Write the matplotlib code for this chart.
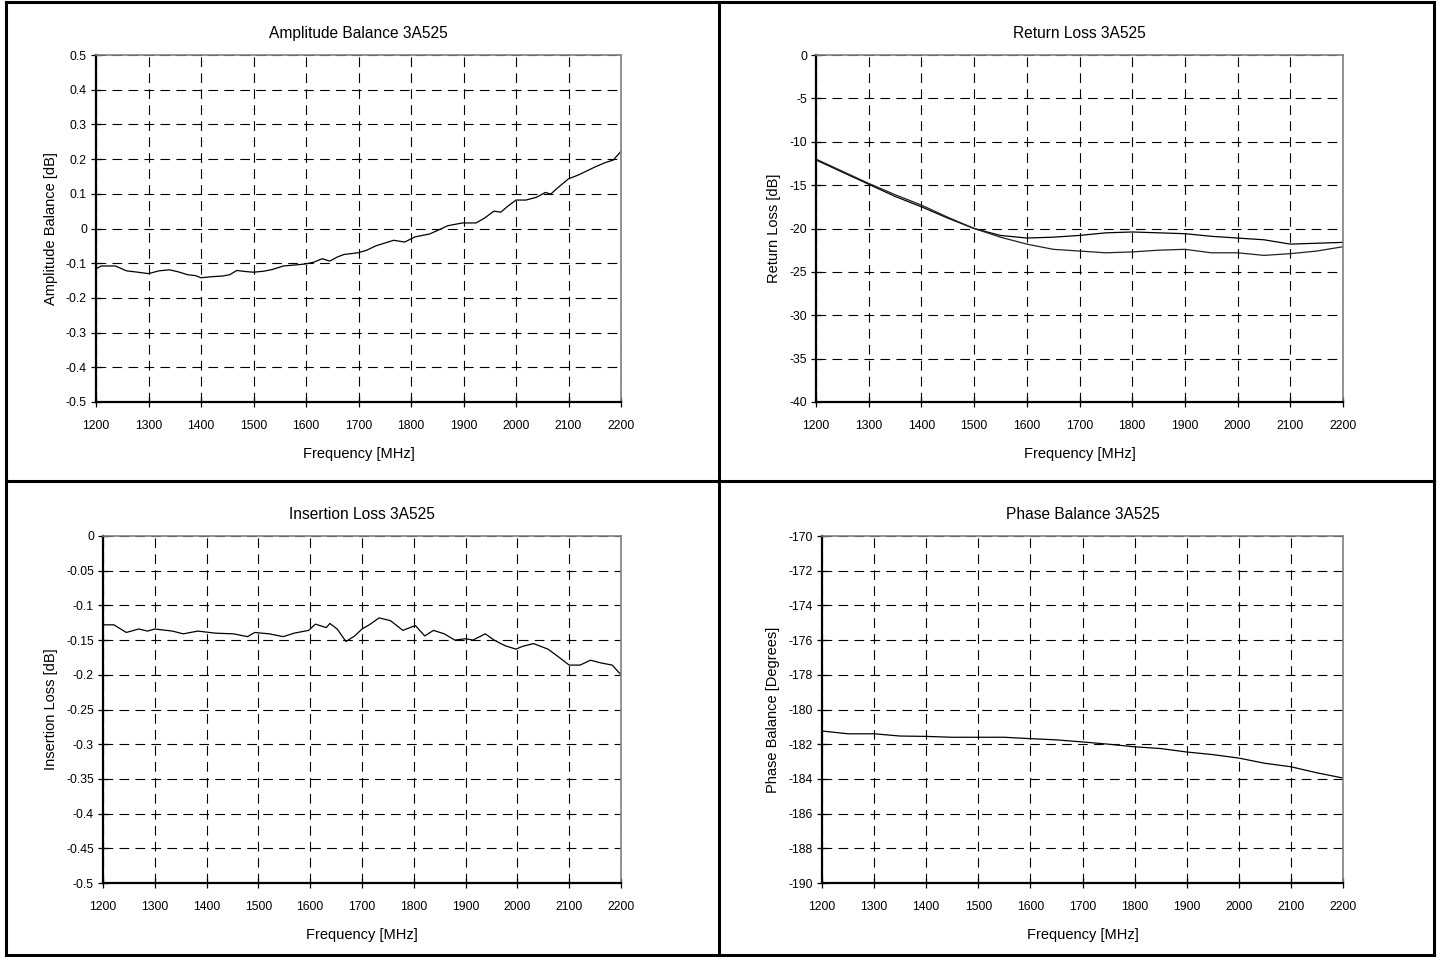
import matplotlib
matplotlib.use("Agg")
import matplotlib.pyplot as plt
from matplotlib.lines import Line2D
import numpy as np

plt.rcParams['font.family'] = ['Liberation Sans', 'DejaVu Sans']
plt.rcParams['lines.scale_dashes'] = False

# ---------------- data ----------------
amp_freq = [1200, 1210, 1237, 1258, 1280, 1300, 1320, 1340, 1357, 1374, 1390, 1400, 1420,
            1441, 1455, 1468, 1485, 1500, 1520, 1536, 1557, 1580, 1600, 1615, 1631, 1645,
            1660, 1672, 1699, 1715, 1733, 1750, 1767, 1788, 1808, 1835, 1850, 1870, 1898,
            1924, 1940, 1958, 1971, 1985, 2000, 2019, 2039, 2056, 2066, 2080, 2100, 2120,
            2150, 2170, 2185, 2200]
amp_val = [-0.116, -0.108, -0.108, -0.122, -0.126, -0.130, -0.122, -0.119, -0.125, -0.133,
           -0.136, -0.142, -0.139, -0.137, -0.133, -0.121, -0.124, -0.126, -0.123, -0.118,
           -0.108, -0.105, -0.102, -0.097, -0.087, -0.094, -0.082, -0.075, -0.070, -0.063,
           -0.050, -0.042, -0.034, -0.039, -0.024, -0.016, -0.006, 0.008, 0.016, 0.016,
           0.030, 0.050, 0.047, 0.065, 0.082, 0.082, 0.090, 0.104, 0.099, 0.118, 0.143,
           0.155, 0.177, 0.190, 0.197, 0.222]

rl_freq = [1200, 1250, 1300, 1350, 1400, 1450, 1500, 1550, 1600, 1650, 1700, 1750, 1800,
           1850, 1900, 1950, 2000, 2050, 2100, 2150, 2200]
rl_s11 = [-12.1, -13.5, -14.9, -16.3, -17.5, -18.8, -20.0, -20.8, -21.1, -21.0, -20.8,
          -20.5, -20.4, -20.5, -20.6, -20.9, -21.1, -21.3, -21.8, -21.7, -21.6]
rl_s22 = [-12.0, -13.4, -14.8, -16.1, -17.3, -18.7, -20.0, -21.0, -21.8, -22.4, -22.6,
          -22.8, -22.7, -22.5, -22.4, -22.8, -22.8, -23.1, -22.9, -22.6, -22.1]

il_freq = [1200, 1221, 1245, 1269, 1286, 1300, 1334, 1355, 1383, 1417, 1452, 1479, 1493,
           1521, 1548, 1569, 1597, 1610, 1631, 1638, 1652, 1669, 1686, 1700, 1714, 1733,
           1755, 1779, 1803, 1821, 1838, 1859, 1879, 1900, 1914, 1938, 1955, 1976, 1997,
           2010, 2031, 2059, 2079, 2100, 2121, 2141, 2162, 2183, 2200]
il_val = [-0.128, -0.128, -0.139, -0.134, -0.137, -0.134, -0.137, -0.141, -0.137, -0.140,
          -0.141, -0.145, -0.139, -0.141, -0.145, -0.140, -0.136, -0.127, -0.132, -0.126,
          -0.134, -0.152, -0.144, -0.134, -0.128, -0.118, -0.122, -0.136, -0.129, -0.144,
          -0.136, -0.141, -0.150, -0.148, -0.150, -0.141, -0.150, -0.158, -0.163, -0.159,
          -0.155, -0.163, -0.174, -0.186, -0.186, -0.179, -0.183, -0.186, -0.200]

ph_freq = [1200, 1250, 1300, 1350, 1400, 1450, 1500, 1550, 1600, 1650, 1700, 1750, 1800,
           1850, 1900, 1950, 2000, 2050, 2100, 2150, 2200]
ph_val = [-181.24, -181.40, -181.40, -181.53, -181.55, -181.60, -181.60, -181.60, -181.68,
          -181.75, -181.87, -182.00, -182.15, -182.25, -182.45, -182.60, -182.80, -183.10,
          -183.30, -183.65, -183.95]

x_ticks = [1200, 1300, 1400, 1500, 1600, 1700, 1800, 1900, 2000, 2100, 2200]

# ---------------- figure ----------------
W, H = 1437, 957
fig = plt.figure(figsize=(W / 100, H / 100), dpi=100)


def px_axes(l, t, r, b):
    return fig.add_axes([l / W, 1 - b / H, (r - l) / W, (b - t) / H])


def style(ax, title, ylabel, ylim, yticks, ytl):
    ax.set_xlim(1200, 2200)
    ax.set_ylim(*ylim)
    ax.set_xticks(x_ticks)
    ax.set_xticklabels([str(v) for v in x_ticks])
    ax.set_yticks(yticks)
    ax.set_yticklabels(ytl)
    ax.grid(True, color='black', linewidth=0.8, linestyle=(0, (7, 4.5)))
    ax.set_axisbelow(True)
    for s in ['left', 'bottom']:
        ax.spines[s].set_linewidth(1.6)
        ax.spines[s].set_color('black')
    for s in ['top', 'right']:
        ax.spines[s].set_linewidth(1.2)
        ax.spines[s].set_color('#808080')
    ax.tick_params(direction='inout', length=7, width=0.9, labelsize=8.8, pad=3)
    ax.tick_params(axis='x', pad=9.3)
    ax.set_title(title, fontsize=11.2, pad=12.5)
    ax.set_xlabel('Frequency [MHz]', fontsize=10.5, labelpad=11)
    ax.set_ylabel(ylabel, fontsize=10.5, labelpad=6)


ax1 = px_axes(96, 55, 621, 402)
ax1.plot(amp_freq, amp_val, color='black', lw=0.9)
style(ax1, 'Amplitude Balance 3A525', 'Amplitude Balance [dB]', (-0.5, 0.5),
      np.round(np.arange(-0.5, 0.51, 0.1), 1),
      ['-0.5', '-0.4', '-0.3', '-0.2', '-0.1', '0', '0.1', '0.2', '0.3', '0.4', '0.5'])

ax2 = px_axes(816, 55, 1343, 402)
ax2.plot(rl_freq, rl_s11, color='black', lw=0.9)
ax2.plot(rl_freq, rl_s22, color='#222222', lw=0.9)
style(ax2, 'Return Loss 3A525', 'Return Loss [dB]', (-40, 0),
      list(range(-40, 1, 5)), [str(v) for v in range(-40, 1, 5)])

ax3 = px_axes(103, 536, 621, 883)
ax3.plot(il_freq, il_val, color='black', lw=0.9)
style(ax3, 'Insertion Loss 3A525', 'Insertion Loss [dB]', (-0.5, 0),
      np.round(np.arange(-0.5, 0.001, 0.05), 2),
      ['-0.5', '-0.45', '-0.4', '-0.35', '-0.3', '-0.25', '-0.2', '-0.15', '-0.1', '-0.05', '0'])

ax4 = px_axes(822, 536, 1343, 883)
ax4.plot(ph_freq, ph_val, color='black', lw=0.9)
style(ax4, 'Phase Balance 3A525', 'Phase Balance [Degrees]', (-190, -170),
      list(range(-190, -169, 2)), [str(v) for v in range(-190, -169, 2)])

# ---------------- outer frame ----------------
def fline(x0, y0, x1, y1, lw=2.2):
    fig.add_artist(Line2D([x0 / W, x1 / W], [1 - y0 / H, 1 - y1 / H],
                          color='black', lw=lw, transform=fig.transFigure))

fline(6, 2, 1434, 2)
fline(6, 955, 1434, 955)
fline(6, 2, 6, 955)
fline(1434, 2, 1434, 955)
fline(719, 2, 719, 955)
fline(6, 481, 1434, 481)

fig.savefig('out.png', dpi=100)
